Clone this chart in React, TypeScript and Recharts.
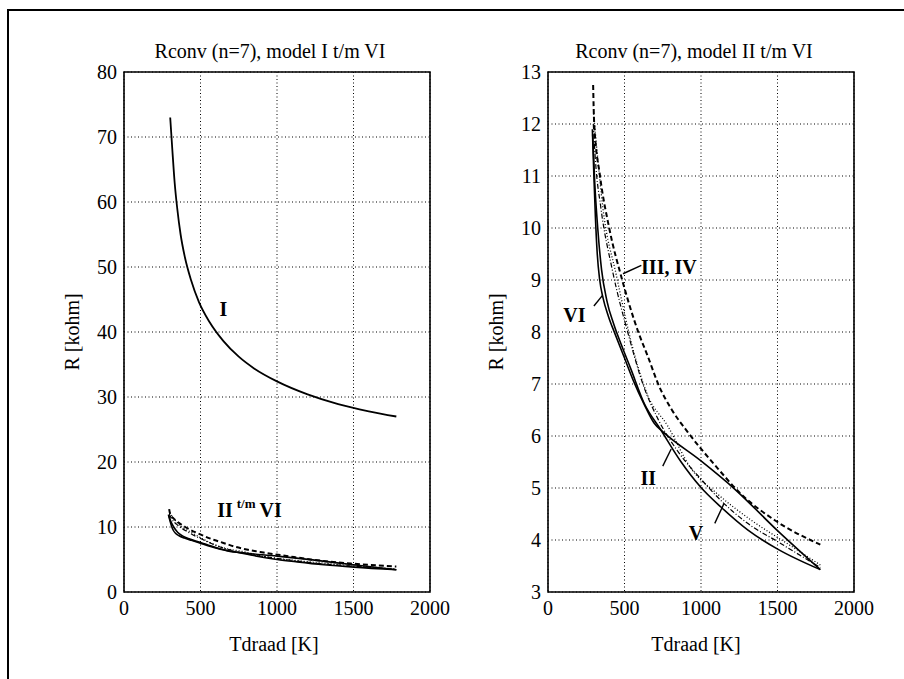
import React from "react";
import {
  LineChart,
  Line,
  XAxis,
  YAxis,
  CartesianGrid,
  ReferenceArea,
  ReferenceDot,
  ReferenceLine,
} from "recharts";

const FONT = "'Liberation Serif', 'Times New Roman', Times, serif";

// axis ticks
const T_TICKS = [0, 500, 1000, 1500, 2000];
const R_TICKS_WIDE = [0, 10, 20, 30, 40, 50, 60, 70, 80];
const R_TICKS_ZOOM = [3, 4, 5, 6, 7, 8, 9, 10, 11, 12, 13];

// Tdraad [K] -> R [kohm]
const modelI = [
  { T: 302, R: 73 }, { T: 316, R: 68 }, { T: 331, R: 63 }, { T: 348, R: 59 },
  { T: 370, R: 55 }, { T: 398, R: 51.5 }, { T: 438, R: 48 }, { T: 490, R: 44.6 },
  { T: 560, R: 41.5 }, { T: 650, R: 38.6 }, { T: 750, R: 36.2 }, { T: 850, R: 34.4 },
  { T: 1000, R: 32.4 }, { T: 1200, R: 30.4 }, { T: 1400, R: 28.9 }, { T: 1600, R: 27.8 },
  { T: 1780, R: 27 },
];

const modelII = [
  { T: 292, R: 11.8 }, { T: 305, R: 10.9 }, { T: 325, R: 10.0 }, { T: 350, R: 9.2 },
  { T: 385, R: 8.6 }, { T: 430, R: 8.15 }, { T: 480, R: 7.75 }, { T: 540, R: 7.3 },
  { T: 630, R: 6.62 }, { T: 737, R: 6.12 }, { T: 868, R: 5.51 }, { T: 1000, R: 5.01 },
  { T: 1132, R: 4.63 }, { T: 1307, R: 4.19 }, { T: 1504, R: 3.82 }, { T: 1780, R: 3.43 },
];

const modelIII = [
  { T: 295, R: 12.75 }, { T: 302, R: 12.0 }, { T: 340, R: 11.0 }, { T: 400, R: 10.0 },
  { T: 485, R: 9.0 }, { T: 590, R: 8.0 }, { T: 650, R: 7.55 }, { T: 726, R: 6.96 },
  { T: 810, R: 6.5 }, { T: 912, R: 6.08 }, { T: 1088, R: 5.45 }, { T: 1263, R: 4.88 },
  { T: 1482, R: 4.38 }, { T: 1780, R: 3.91 },
];

const modelIV = [
  { T: 298, R: 12.2 }, { T: 315, R: 11.65 }, { T: 359, R: 10.38 }, { T: 446, R: 9.1 },
  { T: 565, R: 7.57 }, { T: 649, R: 6.8 }, { T: 781, R: 6.2 }, { T: 934, R: 5.38 },
  { T: 1110, R: 4.88 }, { T: 1329, R: 4.38 }, { T: 1570, R: 3.92 }, { T: 1780, R: 3.52 },
];

const modelV = [
  { T: 296, R: 12.0 }, { T: 310, R: 11.3 }, { T: 345, R: 10.4 }, { T: 420, R: 9.2 },
  { T: 530, R: 7.9 }, { T: 620, R: 7.0 }, { T: 720, R: 6.32 }, { T: 850, R: 5.7 },
  { T: 1000, R: 5.17 }, { T: 1137, R: 4.74 }, { T: 1300, R: 4.33 }, { T: 1500, R: 3.97 },
  { T: 1780, R: 3.47 },
];

const modelVI = [
  { T: 290, R: 11.9 }, { T: 300, R: 11.0 }, { T: 310, R: 10.2 }, { T: 322, R: 9.5 },
  { T: 338, R: 9.0 }, { T: 360, R: 8.65 }, { T: 395, R: 8.3 }, { T: 440, R: 7.95 },
  { T: 500, R: 7.5 }, { T: 560, R: 7.05 }, { T: 630, R: 6.6 }, { T: 693, R: 6.25 },
  { T: 760, R: 6.06 }, { T: 1000, R: 5.52 }, { T: 1220, R: 4.98 }, { T: 1500, R: 4.18 },
  { T: 1780, R: 3.43 },
];

// hand-written annotations (data coords)
const leftNotes = [
  { T: 650, R: 43.5, text: "I" },
  { T: 820, R: 12.6, text: "II", sup: "t/m", tail: "VI" },
];
const rightNotes = [
  { T: 790, R: 9.25, text: "III, IV" },
  { T: 172, R: 8.33, text: "VI" },
  { T: 655, R: 5.2, text: "II" },
  { T: 967, R: 4.13, text: "V" },
];
const rightLeaders = [
  { T1: 610, R1: 9.28, T2: 490, R2: 9.12 },
  { T1: 300, R1: 8.5, T2: 355, R2: 8.7 },
  { T1: 750, R1: 5.42, T2: 805, R2: 5.75 },
  { T1: 1090, R1: 4.32, T2: 1150, R2: 4.7 },
];

const solid = { stroke: "#000", strokeWidth: 1.6 };
const lowerSeries = [
  { name: "II", data: modelII, style: solid },
  { name: "III", data: modelIII, style: { stroke: "#000", strokeWidth: 2, strokeDasharray: "5 3" } },
  { name: "IV", data: modelIV, style: { stroke: "#000", strokeWidth: 1.3, strokeDasharray: "1 2" } },
  { name: "V", data: modelV, style: { stroke: "#000", strokeWidth: 1.2, strokeDasharray: "5 2 1 2" } },
  { name: "VI", data: modelVI, style: solid },
];

const noteShape = (n: any) => (p: any) => (
  <text
    x={p.cx}
    y={p.cy}
    textAnchor="middle"
    dominantBaseline="central"
    fontFamily={FONT}
    fontSize={20}
    fontWeight={700}
    fill="#000"
  >
    {n.text}
    {n.sup ? (
      <tspan fontSize={13} dy={-7} dx={4}>
        {n.sup}
      </tspan>
    ) : null}
    {n.tail ? (
      <tspan dy={7} dx={4}>
        {n.tail}
      </tspan>
    ) : null}
  </text>
);

interface PanelProps {
  left: number;
  width: number;
  marginLeft: number;
  marginRight: number;
  yMin: number;
  yMax: number;
  yTicks: number[];
  series: { name: string; data: { T: number; R: number }[]; style: any }[];
  notes: any[];
  leaders: { T1: number; R1: number; T2: number; R2: number }[];
}

function Panel({ left, width, marginLeft, marginRight, yMin, yMax, yTicks, series, notes, leaders }: PanelProps) {
  const tickStyle = { fontSize: 20, fill: "#000", fontFamily: FONT };
  return (
    <div style={{ position: "absolute", left, top: 0 }}>
      <LineChart
        width={width}
        height={679}
        margin={{ top: 72, right: marginRight, bottom: 57, left: marginLeft }}
      >
        <CartesianGrid stroke="#000" strokeDasharray="1 2.5" strokeWidth={1} />
        <XAxis
          type="number"
          dataKey="T"
          domain={[0, 2000]}
          ticks={T_TICKS}
          allowDataOverflow
          height={30}
          tickSize={0}
          tickMargin={9}
          axisLine={false}
          tick={tickStyle}
        />
        <YAxis
          type="number"
          dataKey="R"
          domain={[yMin, yMax]}
          ticks={yTicks}
          allowDataOverflow
          width={60}
          tickSize={0}
          tickMargin={7}
          axisLine={false}
          tick={tickStyle}
        />
        <ReferenceArea x1={0} x2={2000} y1={yMin} y2={yMax} fill="none" fillOpacity={0} stroke="#000" strokeWidth={1.6} />
        {series.map((s) => (
          <Line
            key={s.name}
            data={s.data}
            dataKey="R"
            type="monotone"
            dot={false}
            activeDot={false}
            isAnimationActive={false}
            {...s.style}
          />
        ))}
        {leaders.map((l, i) => (
          <ReferenceLine
            key={"l" + i}
            segment={[
              { x: l.T1, y: l.R1 },
              { x: l.T2, y: l.R2 },
            ]}
            stroke="#000"
            strokeWidth={1.4}
          />
        ))}
        {notes.map((n, i) => (
          <ReferenceDot key={"n" + i} x={n.T} y={n.R} r={0} shape={noteShape(n)} />
        ))}
      </LineChart>
    </div>
  );
}

const textBase: React.CSSProperties = {
  position: "absolute",
  fontFamily: FONT,
  fontSize: 20,
  color: "#000",
  whiteSpace: "nowrap",
  transform: "translate(-50%, -50%)",
};

export default function App() {
  return (
    <div style={{ position: "absolute", left: 0, top: 0, width: 904, height: 679, background: "#fff", overflow: "hidden" }}>
      {/* page frame */}
      <div style={{ position: "absolute", left: 7, top: 9, width: 897, height: 2, background: "#000" }} />
      <div style={{ position: "absolute", left: 7, top: 9, width: 2, height: 670, background: "#000" }} />

      <Panel
        left={0}
        width={460}
        marginLeft={64}
        marginRight={30}
        yMin={0}
        yMax={80}
        yTicks={R_TICKS_WIDE}
        series={[{ name: "I", data: modelI, style: { stroke: "#000", strokeWidth: 1.8 } }, ...lowerSeries]}
        notes={leftNotes}
        leaders={[]}
      />
      <Panel
        left={460}
        width={444}
        marginLeft={28}
        marginRight={50}
        yMin={3}
        yMax={13}
        yTicks={R_TICKS_ZOOM}
        series={lowerSeries}
        notes={rightNotes}
        leaders={rightLeaders}
      />

      <div style={{ ...textBase, left: 270, top: 51 }}>Rconv (n=7), model I t/m VI</div>
      <div style={{ ...textBase, left: 694, top: 51 }}>Rconv (n=7), model II t/m VI</div>

      <div style={{ ...textBase, left: 274, top: 644 }}>Tdraad [K]</div>
      <div style={{ ...textBase, left: 696, top: 644 }}>Tdraad [K]</div>

      <div style={{ ...textBase, left: 72, top: 332, transform: "translate(-50%, -50%) rotate(-90deg)" }}>R [kohm]</div>
      <div style={{ ...textBase, left: 496, top: 332, transform: "translate(-50%, -50%) rotate(-90deg)" }}>R [kohm]</div>
    </div>
  );
}
